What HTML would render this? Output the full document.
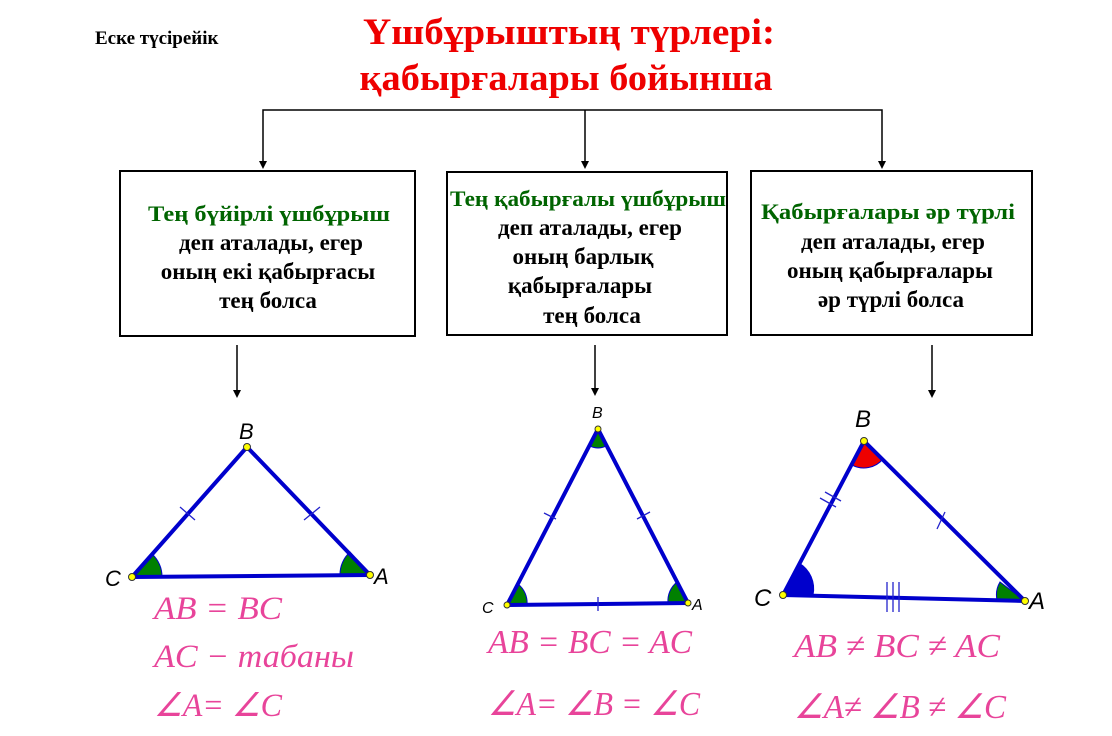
<!DOCTYPE html>
<html><head><meta charset="utf-8"><style>
html,body{margin:0;padding:0;background:#fff;}
svg{display:block;}
</style></head><body>
<svg width="1112" height="736" viewBox="0 0 1112 736" xmlns="http://www.w3.org/2000/svg">
<g font-weight="bold" font-family="Liberation Serif, serif">
<text x="95" y="44" font-size="19">Еске түсірейік</text>
<text x="569" y="44" font-size="37" fill="#ee0000" text-anchor="middle" textLength="412" lengthAdjust="spacingAndGlyphs">Үшбұрыштың түрлері:</text>
<text x="566" y="90" font-size="37" fill="#ee0000" text-anchor="middle" textLength="413" lengthAdjust="spacingAndGlyphs">қабырғалары бойынша</text>
</g>
<g stroke="#000" stroke-width="1.5" fill="none">
<polyline points="263,165 263,110 882,110 882,165"/>
<line x1="585" y1="110" x2="585" y2="165"/>
<line x1="237" y1="345" x2="237" y2="393"/>
<line x1="595" y1="345" x2="595" y2="391"/>
<line x1="932" y1="345" x2="932" y2="393"/>
<rect x="120" y="171" width="295" height="165" stroke-width="2"/>
<rect x="447" y="172" width="280" height="163" stroke-width="2"/>
<rect x="751" y="171" width="281" height="164" stroke-width="2"/>
</g>
<g fill="#000">
<path d="M259,161 L267,161 L263,169 z"/><path d="M581,161 L589,161 L585,169 z"/><path d="M878,161 L886,161 L882,169 z"/>
<path d="M233,390 L241,390 L237,398 z"/><path d="M591,388 L599,388 L595,396 z"/><path d="M928,390 L936,390 L932,398 z"/>
</g>
<g font-family="Liberation Serif, serif" font-weight="bold" font-size="23" text-anchor="middle">
<text x="269" y="221" fill="#006400" textLength="242" lengthAdjust="spacingAndGlyphs" font-size="22">Тең бүйірлі үшбұрыш</text>
<text x="271" y="250">деп аталады, егер</text>
<text x="268" y="279">оның екі қабырғасы</text>
<text x="268" y="308">тең болса</text>
<text x="588" y="206" fill="#006400" textLength="276" lengthAdjust="spacingAndGlyphs" font-size="22">Тең қабырғалы үшбұрыш</text>
<text x="590" y="235">деп аталады, егер</text>
<text x="583" y="264">оның барлық</text>
<text x="580" y="293">қабырғалары</text>
<text x="592" y="323">тең болса</text>
<text x="888" y="219" fill="#006400" textLength="254" lengthAdjust="spacingAndGlyphs" font-size="22">Қабырғалары әр түрлі</text>
<text x="893" y="249">деп аталады, егер</text>
<text x="890" y="278">оның қабырғалары</text>
<text x="891" y="307">әр түрлі болса</text>
</g>
<g stroke="#0000cc" stroke-width="1">
<path d="M132,577 L152,554 A30,30 0 0 1 162,577 z" fill="#008000"/>
<path d="M370,575 L350,552 A30,30 0 0 0 340,575 z" fill="#008000"/>
<path d="M507,605 L518,584 A24,24 0 0 1 527,605 z" fill="#008000"/>
<path d="M688,603 L677,582 A24,24 0 0 0 668,603 z" fill="#008000"/>
<path d="M598,429 L590,446 A18,18 0 0 0 606,446 z" fill="#008000"/>
<path d="M864,441 L852,465 A25,25 0 0 0 883,459 z" fill="#ee0000"/>
<path d="M783,595 L799,563 A30,30 0 0 1 813,595 z" fill="#0000cc"/>
<path d="M1025,601 L1000,582 A25,25 0 0 0 997,600 z" fill="#008000"/>
</g>
<g stroke="#0000cc" stroke-width="4" fill="none" stroke-linejoin="round">
<polygon points="247,447 132,577 370,575"/>
<polygon points="598,429 507,605 688,603"/>
<polygon points="864,441 783,595 1025,601"/>
</g>
<g stroke="#2222cc" stroke-width="1.3">
<line x1="180" y1="507" x2="195" y2="520"/><line x1="304" y1="520" x2="320" y2="507"/>
<line x1="544" y1="513" x2="556" y2="519"/><line x1="637" y1="519" x2="650" y2="512"/><line x1="598" y1="597" x2="598" y2="611"/>
<line x1="820" y1="498" x2="836" y2="507"/><line x1="825" y1="492" x2="841" y2="501"/>
<line x1="937" y1="529" x2="945" y2="512"/>
<line x1="887" y1="582" x2="887" y2="612"/><line x1="893" y1="582" x2="893" y2="612"/><line x1="899" y1="582" x2="899" y2="612"/>
</g>
<g fill="#ffff00" stroke="#333" stroke-width="1">
<circle cx="247" cy="447" r="3.5"/><circle cx="132" cy="577" r="3.5"/><circle cx="370" cy="575" r="3.5"/>
<circle cx="598" cy="429" r="3"/><circle cx="507" cy="605" r="3"/><circle cx="688" cy="603" r="3"/>
<circle cx="864" cy="441" r="3.5"/><circle cx="783" cy="595" r="3.5"/><circle cx="1025" cy="601" r="3.5"/>
</g>
<g font-family="Liberation Sans, sans-serif" font-style="italic">
<text x="239" y="439" font-size="22">B</text><text x="105" y="586" font-size="22">C</text><text x="374" y="584" font-size="22">A</text>
<text x="592" y="418" font-size="16">B</text><text x="482" y="613" font-size="16">C</text><text x="692" y="610" font-size="16">A</text>
<text x="855" y="427" font-size="24">B</text><text x="754" y="606" font-size="24">C</text><text x="1029" y="609" font-size="24">A</text>
</g>
<g font-family="Liberation Serif, serif" font-style="italic" fill="#e8449a">
<text x="154" y="619" font-size="33" textLength="128" lengthAdjust="spacingAndGlyphs">AB = BC</text>
<text x="154" y="667" font-size="33" textLength="200" lengthAdjust="spacingAndGlyphs">AC − табаны</text>
<text x="154" y="716" font-size="33" textLength="128" lengthAdjust="spacingAndGlyphs">∠A= ∠C</text>
<text x="488" y="653" font-size="34" textLength="204" lengthAdjust="spacingAndGlyphs">AB = BC = AC</text>
<text x="488" y="715" font-size="34" textLength="212" lengthAdjust="spacingAndGlyphs">∠A= ∠B = ∠C</text>
<text x="794" y="657" font-size="34" textLength="206" lengthAdjust="spacingAndGlyphs">AB ≠ BC ≠ AC</text>
<text x="794" y="718" font-size="34" textLength="212" lengthAdjust="spacingAndGlyphs">∠A≠ ∠B ≠ ∠C</text>
</g>
</svg>
</body></html>
